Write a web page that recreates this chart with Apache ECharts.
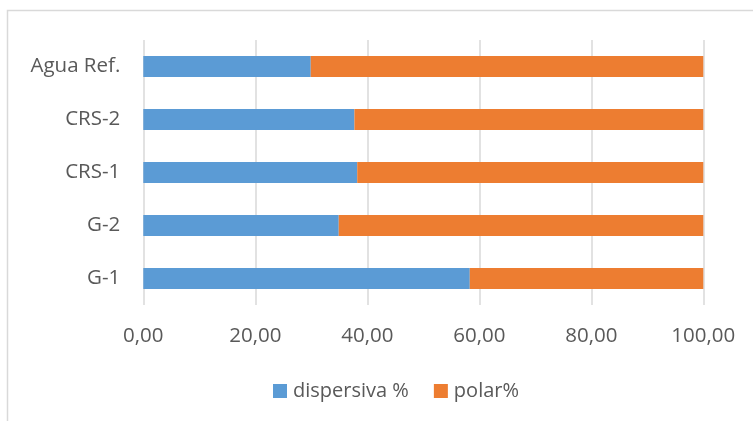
<!DOCTYPE html>
<html>
<head>
<meta charset="utf-8">
<script src="https://cdn.jsdelivr.net/npm/echarts@6/dist/echarts.min.js"></script>
<style>
  html, body { margin: 0; padding: 0; background: #ffffff; }
  #chart { width: 753px; height: 421px; }
</style>
</head>
<body>
<div id="chart"></div>
<script>
// Surface energy components (%), bottom to top
const categories = ['G-1', 'G-2', 'CRS-1', 'CRS-2', 'Agua Ref.'];
const dispersiva = [58.3, 34.9, 38.2, 37.7, 29.9];
const polar = [41.7, 65.1, 61.8, 62.3, 70.1];
const seriesNames = ['dispersiva %', 'polar%'];
const axisTicks = [0, 20, 40, 60, 80, 100];

const FONT = '"Open Sans", "Noto Sans", sans-serif';
const GREY = '#595959';

const chart = echarts.init(document.getElementById('chart'));
chart.setOption({
  backgroundColor: '#ffffff',
  animation: false,
  graphic: [{
    type: 'rect',
    shape: { x: 7.5, y: 10.5, width: 800, height: 500 },
    style: { fill: 'none', stroke: '#d9d9d9', lineWidth: 1.5 },
    silent: true
  }],
  grid: { left: 143.3, right: 49.7, top: 40, bottom: 116, containLabel: false },
  legend: {
    data: seriesNames,
    left: 268,
    top: 376,
    itemWidth: 14,
    itemHeight: 14,
    itemGap: 25,
    icon: 'rect',
    textStyle: { color: GREY, fontSize: 20, fontFamily: FONT, padding: [0, 0, 0, 1] }
  },
  xAxis: {
    type: 'value',
    min: axisTicks[0],
    max: axisTicks[axisTicks.length - 1],
    interval: axisTicks[1] - axisTicks[0],
    axisLine: { show: false },
    axisTick: { show: false },
    splitLine: { show: true, lineStyle: { color: '#d9d9d9', width: 1.5 } },
    axisLabel: {
      color: GREY, fontSize: 20.5, fontFamily: FONT, margin: 21,
      formatter: v => v.toFixed(2).replace('.', ',')
    }
  },
  yAxis: {
    type: 'category',
    data: categories,
    axisLine: { show: false },
    axisTick: { show: false },
    axisLabel: { color: GREY, fontSize: 20.5, fontFamily: FONT, margin: 23 }
  },
  series: [
    {
      name: seriesNames[0], type: 'bar', stack: 'total', data: dispersiva,
      barWidth: '40%',
      itemStyle: { color: '#5b9bd5' }
    },
    {
      name: seriesNames[1], type: 'bar', stack: 'total', data: polar,
      barWidth: '40%',
      itemStyle: { color: '#ed7d31' }
    }
  ]
});
</script>
</body>
</html>
